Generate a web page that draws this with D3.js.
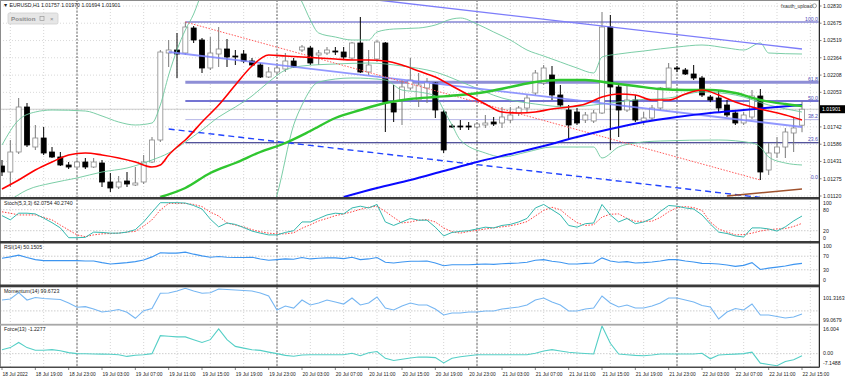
<!DOCTYPE html>
<html>
<head>
<meta charset="utf-8">
<script src="https://cdn.jsdelivr.net/npm/d3@7"></script>
<style>
  body { margin: 0; background: #fff; }
  svg { display: block; }
  text { font-family: "Liberation Sans", Arial, sans-serif; }
</style>
</head>
<body>
<div id="chart"></div>
<script>
// EURUSD H1, 18 Jul 2022 15:00 .. 22 Jul 2022 15:00 (97 bars)
const opens = [1.01390,1.01336,1.01516,1.01921,1.01561,1.01642,1.01516,1.01471,1.01399,1.01381,
  1.01426,1.01381,1.01417,1.01246,1.01201,1.01255,1.01219,1.01246,1.01426,1.01624,
  1.02407,1.02434,1.02407,1.02632,1.02524,1.02272,1.02398,1.02443,1.02380,1.02398,
  1.02335,1.02299,1.02191,1.02236,1.02263,1.02335,1.02434,1.02452,1.02389,1.02407,
  1.02425,1.02416,1.02362,1.02497,1.02236,1.02353,1.02497,1.01957,1.01984,1.02092,
  1.01984,1.02092,1.02137,1.01876,1.01750,1.01750,1.01750,1.01741,1.01759,1.01786,
  1.01777,1.01804,1.01867,1.01912,1.02047,1.02137,1.02209,1.02029,1.01894,1.01876,
  1.01804,1.01795,1.01867,1.02641,1.02101,1.01894,1.01984,1.01795,1.01822,1.01912,
  1.02092,1.02272,1.02254,1.02218,1.02182,1.02011,1.02002,1.01939,1.01867,1.01777,
  1.01831,1.02020,1.01354,1.01507,1.01561,1.01687,1.01757];
const highs = [1.01444,1.01624,1.02002,1.01957,1.01759,1.01741,1.01561,1.01516,1.01426,1.01444,
  1.01462,1.01462,1.01444,1.01327,1.01300,1.01336,1.01381,1.01489,1.01651,1.02434,
  1.02524,1.02587,1.02686,1.02650,1.02542,1.02551,1.02641,1.02533,1.02434,1.02434,
  1.02362,1.02317,1.02281,1.02299,1.02407,1.02362,1.02479,1.02470,1.02434,1.02461,
  1.02461,1.02461,1.02506,1.02731,1.02434,1.02524,1.02506,1.02119,1.02164,1.02362,
  1.02227,1.02182,1.02146,1.01894,1.01768,1.01804,1.01786,1.01786,1.01849,1.01831,
  1.01921,1.01921,1.01930,1.02029,1.02254,1.02299,1.02290,1.02119,1.01939,1.01912,
  1.01876,1.01894,1.02776,1.02749,1.02119,1.02119,1.02029,1.01876,1.01939,1.02101,
  1.02317,1.02290,1.02272,1.02299,1.02200,1.02029,1.02074,1.01984,1.01894,1.01876,
  1.02074,1.02083,1.01597,1.01651,1.01732,1.01831,1.01970];
const lows = [1.01300,1.01201,1.01498,1.01561,1.01534,1.01489,1.01462,1.01390,1.01363,1.01372,
  1.01363,1.01372,1.01201,1.01156,1.01183,1.01201,1.01210,1.01228,1.01417,1.01606,
  1.02281,1.02182,1.02389,1.02497,1.02227,1.02254,1.02281,1.02281,1.02299,1.02317,
  1.02290,1.02182,1.02182,1.02218,1.02236,1.02272,1.02416,1.02299,1.02299,1.02389,
  1.02389,1.02344,1.02344,1.02227,1.02209,1.02326,1.01696,1.01786,1.01759,1.02074,
  1.01921,1.01957,1.01822,1.01507,1.01732,1.01714,1.01714,1.01723,1.01732,1.01750,
  1.01732,1.01777,1.01840,1.01876,1.02029,1.02119,1.01984,1.01921,1.01624,1.01759,
  1.01777,1.01777,1.01858,1.01534,1.01651,1.01876,1.01786,1.01759,1.01804,1.01894,
  1.02074,1.02236,1.02209,1.02164,1.02011,1.01966,1.01876,1.01831,1.01759,1.01759,
  1.01813,1.01264,1.01309,1.01462,1.01462,1.01516,1.01694];
const closes = [1.01336,1.01516,1.01921,1.01579,1.01642,1.01507,1.01471,1.01399,1.01381,1.01426,
  1.01381,1.01426,1.01246,1.01192,1.01246,1.01228,1.01237,1.01426,1.01624,1.02416,
  1.02434,1.02398,1.02641,1.02524,1.02272,1.02407,1.02443,1.02371,1.02371,1.02335,
  1.02299,1.02191,1.02236,1.02272,1.02335,1.02281,1.02461,1.02317,1.02407,1.02434,
  1.02416,1.02371,1.02497,1.02236,1.02299,1.02506,1.01966,1.01876,1.02101,1.02164,
  1.02119,1.02146,1.01894,1.01534,1.01741,1.01741,1.01741,1.01768,1.01777,1.01768,
  1.01831,1.01849,1.01912,1.02002,1.02227,1.02272,1.02029,1.01939,1.01759,1.01777,
  1.01849,1.01867,1.02641,1.02101,1.01894,1.01984,1.01804,1.01822,1.01912,1.02092,
  1.02272,1.02263,1.02218,1.02182,1.02029,1.01984,1.01912,1.01849,1.01777,1.01849,
  1.02020,1.01336,1.01507,1.01561,1.01696,1.01732,1.01901];

// moving averages and bands, [bar, price]
const maRed = [[0,1.01183],[2,1.01264],[4,1.01354],[6,1.01426],[8,1.01489],[10,1.01507],[12,1.01489],
  [14,1.01462],[16,1.01426],[18,1.01381],[19,1.01399],[20,1.01489],[21,1.01561],[22,1.01624],[24,1.01786],
  [26,1.01939],[28,1.02119],[30,1.02290],[32,1.02389],[34,1.02380],[36,1.02371],[38,1.02362],[40,1.02353],
  [42,1.02344],[44,1.02344],[46,1.02335],[48,1.02299],[50,1.02245],[52,1.02191],[54,1.02110],[56,1.02029],
  [58,1.01948],[60,1.01876],[62,1.01867],[64,1.01876],[66,1.01903],[68,1.01921],[70,1.01948],[72,1.02011],
  [74,1.02038],[76,1.02029],[78,1.01984],[80,1.01984],[82,1.02038],[84,1.02074],[86,1.02029],[88,1.01966],
  [90,1.01921],[92,1.01885],[94,1.01849],[96,1.01804]];
const maGreen = [[19,1.01111],[22,1.01192],[25,1.01327],[28,1.01417],[31,1.01516],[34,1.01597],[37,1.01705],
  [40,1.01822],[43,1.01894],[46,1.01957],[49,1.01993],[52,1.02011],[55,1.02029],[58,1.02056],[61,1.02101],
  [64,1.02146],[67,1.02164],[70,1.02164],[73,1.02137],[76,1.02110],[79,1.02083],[82,1.02074],[85,1.02074],
  [88,1.02047],[91,1.01984],[94,1.01948],[96,1.01930]];
const maBlue = [[41,1.01111],[45,1.01192],[49,1.01264],[53,1.01345],[57,1.01426],[61,1.01498],[65,1.01570],
  [69,1.01651],[73,1.01723],[77,1.01786],[81,1.01831],[85,1.01867],[89,1.01894],[93,1.01921],[96,1.01939]];
const bbUpper = [[0,1.01579],[2,1.01804],[4,1.01876],[6,1.01894],[10,1.01885],[12,1.01840],[14,1.01786],
  [16,1.01759],[18,1.01777],[19,1.01939],[20,1.02209],[21,1.02434],[22,1.02614],[23,1.02758],[24,1.02956],
  [28,1.03424],[32,1.03334],[35,1.02992],[36,1.02866],[37,1.02704],[38,1.02587],[40,1.02551],[42,1.02524],
  [44,1.02524],[45,1.02596],[47,1.02623],[50,1.02632],[52,1.02659],[54,1.02713],[55,1.02722],[57,1.02668],
  [59,1.02596],[61,1.02524],[63,1.02434],[65,1.02380],[67,1.02326],[69,1.02272],[71,1.02227],[72,1.02371],
  [74,1.02398],[77,1.02425],[81,1.02461],[84,1.02479],[87,1.02452],[89,1.02434],[91,1.02497],[92,1.02407],[96,1.02398]];
const bbMiddle = [[1,1.01084],[3,1.01174],[6,1.01237],[9,1.01282],[12,1.01336],[15,1.01372],[18,1.01444],
  [20,1.01507],[22,1.01606],[24,1.01714],[26,1.01831],[28,1.01921],[30,1.02020],[32,1.02146],[34,1.02254],
  [36,1.02290],[40,1.02308],[44,1.02317],[48,1.02290],[52,1.02236],[56,1.02119],[60,1.02002],[64,1.01948],
  [68,1.01921],[72,1.01948],[76,1.01984],[80,1.02002],[84,1.02056],[88,1.02029],[92,1.01939],[96,1.01876]];
const bbLower = [[0,1.00949],[6,1.01039],[12,1.01084],[18,1.01102],[19,1.00949],[22,1.00544],[27,1.00634],
  [31,1.00724],[33,1.01129],[35,1.01759],[36,1.01939],[38,1.02146],[42,1.02182],[46,1.02164],[48,1.02074],
  [50,1.02056],[52,1.02020],[53,1.01894],[54,1.01759],[55,1.01624],[58,1.01507],[60,1.01471],[63,1.01516],
  [66,1.01561],[71,1.01561],[72,1.01462],[74,1.01561],[76,1.01597],[79,1.01615],[86,1.01624],[90,1.01597],
  [91,1.01561],[92,1.01471],[94,1.01417],[96,1.01399]];

// drawn objects, [bar, price]
const trendUpper = [[45,1.02884],[96,1.02443]];
const trendMid = [[20,1.02416],[96,1.01741]];
const trendLowDash = [[20,1.01723],[91,1.01107]];
const trendRed = [[22,1.02686],[91,1.01264]];
const trendBrown = [[87,1.01120],[96,1.01183]];
const fibHigh = 1.02686, fibLow = 1.01264, fibStartBar = 22;
const fibLevels = [0, 23.6, 38.2, 50, 61.8, 100];
const fibLabels = ['0.0', '23.6', '38.2', '50.0', '61.8', '100.0'];

// indicator series, one value per bar
const stochK = [63,51,70,70,68,56,43,28,0,0,
  1,16,15,13,13,16,23,45,73,100,
  100,100,99,92,82,53,31,42,38,29,
  19,13,8,8,15,20,45,45,55,65,
  70,68,85,90,85,95,45,35,45,55,
  50,50,30,5,15,18,20,25,30,28,
  35,38,45,55,85,95,80,65,35,30,
  40,42,95,65,45,55,40,45,55,75,
  92,90,85,82,65,39,16,12,5,2,
  28,28,25,19,31,48,62];
const stochD = [74,70,65,65,65,58,51,36,22,8,
  3,8,11,12,13,16,18,33,51,79,
  98,98,98,95,89,73,62,42,36,31,
  23,17,13,11,11,14,27,37,48,55,
  63,68,74,81,87,90,75,58,42,45,
  50,52,45,28,17,13,18,21,25,28,
  31,34,39,46,62,78,87,80,60,43,
  35,37,59,67,68,55,47,47,47,58,
  74,86,89,86,78,45,25,16,8,9,
  13,19,23,25,26,32,41];
const rsiVals = [64,68,73,66,60,57,57,57,57,57,
  56,56,51,47,49,51,54,59,68,80,
  79,79,82,76,71,67,69,67,66,66,
  67,62,58,60,62,61,66,62,64,65,
  65,63,67,60,62,66,52,50,53,55,
  55,56,50,42,45,45,45,46,47,46,
  48,49,50,52,58,60,55,52,47,47,
  49,50,65,56,52,54,50,51,53,56,
  60,60,56,53,49,48.5,47,44,40,43,
  51,31,35,38,41,46,49];
const momVals = [101.11,101.21,101.86,101.11,101.37,101.27,101.21,101.16,100.81,100.37,
  100.43,100.19,99.89,99.99,100.14,99.85,99.24,100.02,100.24,101.80,
  101.83,102.03,102.31,102.03,101.80,101.86,102.24,102.19,102.13,102.08,
  102.03,101.83,101.52,100.09,100.50,100.29,101.11,100.60,100.81,101.11,
  100.91,100.70,101.32,100.60,100.81,101.42,100.29,100.09,100.50,100.81,
  100.60,100.60,100.19,99.58,99.78,99.78,99.89,99.89,99.99,99.99,
  100.19,100.29,100.40,100.60,101.11,101.32,100.91,100.60,99.99,99.99,
  100.19,100.29,101.52,100.81,100.40,100.60,100.29,100.29,100.50,100.81,
  101.32,101.32,101.11,100.91,100.55,100.40,99.17,99.89,100.24,100.09,
  100.70,99.58,99.58,99.43,99.27,99.37,99.68];
const forceVals = [2.3,3.5,6.5,3.5,2.0,2.0,2.3,1.7,0.6,0,
  -0.1,-0.2,-0.3,-0.35,-0.6,-1.6,-0.9,-0.6,0,10.4,
  10.1,9.7,9.7,8.1,6.5,8.1,14.3,8.1,4.2,3.2,
  2.3,1.9,0.9,0,-1.0,-1.5,-0.8,-0.6,-0.6,-0.6,
  -0.6,-0.6,0.2,-1.2,0.5,1.2,-2.7,-4.0,-3.2,-2.5,
  -1.9,-2.0,-2.3,-5.4,-2.7,-1.8,-1.2,-0.6,-0.6,-0.6,
  -0.6,-0.6,-0.6,-0.6,0.2,1.5,2.3,1.5,0.8,0.4,
  0.1,-0.2,16.0,6.0,-0.2,-0.6,-1.0,-1.2,-0.8,-0.2,
  -0.2,-0.2,-0.2,-0.2,0.2,-3.0,-0.8,-0.5,-0.3,0,
  0.9,-5.5,-6.3,-7.0,-4.5,-3.5,-1.2];

// axis labels
const priceTicks = [1.02830,1.02675,1.02519,1.02364,1.02208,1.02053,1.01897,1.01742,1.01586,1.01431,1.01275,1.01120];
const timeTickBars = d3.range(0, 97, 4);
const timeLabels = ['18 Jul 2022','18 Jul 19:00','18 Jul 23:00','19 Jul 03:00','19 Jul 07:00','19 Jul 11:00',
  '19 Jul 15:00','19 Jul 19:00','19 Jul 23:00','20 Jul 03:00','20 Jul 07:00','20 Jul 11:00','20 Jul 15:00',
  '20 Jul 19:00','20 Jul 23:00','21 Jul 03:00','21 Jul 07:00','21 Jul 11:00','21 Jul 15:00','21 Jul 19:00',
  '21 Jul 23:00','22 Jul 03:00','22 Jul 07:00','22 Jul 11:00','22 Jul 15:00'];
const dayBreakBars = [9, 33, 57, 81];

const W = 845, H = 379, plotR = 819;
const panels = {
  main:  { top: 1,   bottom: 197 },
  stoch: { top: 199.5, bottom: 241 },
  rsi:   { top: 243.5, bottom: 284.5 },
  mom:   { top: 287.5, bottom: 323.5 },
  force: { top: 325.5, bottom: 366.5 },
};

const x = d3.scaleLinear().domain([0, 96]).range([2, 802]);
const yMain = d3.scaleLinear().domain([1.01120, 1.02830]).range([196, 6]);
const yStoch = d3.scaleLinear().domain([0, 100]).range([237.7, 202.7]);
const yRsi = d3.scaleLinear().domain([0, 100]).range([280, 246]);
const yMom = d3.scaleLinear().domain([99.0679, 101.3163]).range([320, 298]);
const yForce = d3.scaleLinear().domain([-7.1488, 16.004]).range([366, 326]);

const svg = d3.select('#chart').append('svg').attr('width', W).attr('height', H);
svg.append('rect').attr('width', W).attr('height', H).attr('fill', '#fff');

const defs = svg.append('defs');
Object.entries(panels).forEach(([k, p]) => {
  defs.append('clipPath').attr('id', 'clip-' + k)
    .append('rect').attr('x', 0).attr('y', p.top).attr('width', plotR).attr('height', p.bottom - p.top);
});

// grid
const grid = svg.append('g');
grid.selectAll('.gv').data(timeTickBars.map(b => b + 1).filter(b => x(b) < plotR)).join('line')
  .attr('x1', d => x(d)).attr('x2', d => x(d)).attr('y1', 0).attr('y2', 367)
  .attr('stroke', '#c4c4c4').attr('stroke-width', 0.7).attr('stroke-dasharray', '1,2');
grid.selectAll('.gh').data(priceTicks).join('line')
  .attr('x1', 0).attr('x2', plotR).attr('y1', d => yMain(d)).attr('y2', d => yMain(d))
  .attr('stroke', '#c8c8c8').attr('stroke-width', 0.7).attr('stroke-dasharray', '1,2');
grid.selectAll('.gd').data(dayBreakBars).join('line')
  .attr('x1', d => x(d)).attr('x2', d => x(d)).attr('y1', 0).attr('y2', 367)
  .attr('stroke', '#3c3c3c').attr('stroke-width', 0.8).attr('stroke-dasharray', '2,1.5');

// indicator level lines
const levels = [[yStoch, [80, 20]], [yRsi, [70, 30]], [yMom, [100]], [yForce, [0]]];
levels.forEach(([sc, vals]) => {
  grid.selectAll(null).data(vals).join('line')
    .attr('x1', 0).attr('x2', plotR).attr('y1', d => sc(d)).attr('y2', d => sc(d))
    .attr('stroke', '#b8b8b8').attr('stroke-width', 0.7).attr('stroke-dasharray', '1.5,1.5');
});

// main panel
const main = svg.append('g').attr('clip-path', 'url(#clip-main)');
const pairLine = (ys, curve) => d3.line().x(d => x(d[0])).y(d => ys(d[1])).curve(curve || d3.curveLinear);

// bid line
main.append('line').attr('x1', 0).attr('x2', plotR)
  .attr('y1', yMain(closes[closes.length - 1])).attr('y2', yMain(closes[closes.length - 1]))
  .attr('stroke', '#c0c0c0').attr('stroke-width', 0.8);

// fibonacci levels
const fibStyle = {
  '0.0':   { c: 'none', w: 0 },
  '23.6':  { c: '#1a1a7a', w: 1.1 },
  '38.2':  { c: '#b4b4e6', w: 1 },
  '50.0':  { c: '#4646c4', w: 1.4 },
  '61.8':  { c: '#8e8ed6', w: 3 },
  '100.0': { c: '#4a4ac0', w: 1.2 },
};
const fibData = fibLevels.map((l, i) => ({ label: fibLabels[i], price: fibLow + (fibHigh - fibLow) * l / 100 }));
main.selectAll('.fib').data(fibData).join('line')
  .attr('x1', x(fibStartBar)).attr('x2', plotR)
  .attr('y1', d => yMain(d.price)).attr('y2', d => yMain(d.price))
  .attr('stroke', d => fibStyle[d.label].c).attr('stroke-width', d => fibStyle[d.label].w);

// candles
const candles = opens.map((o, i) => ({ i, o, h: highs[i], l: lows[i], c: closes[i] }));
const cg = main.append('g');
cg.selectAll('.wick').data(candles).join('line')
  .attr('x1', d => x(d.i)).attr('x2', d => x(d.i))
  .attr('y1', d => yMain(d.h)).attr('y2', d => yMain(d.l))
  .attr('stroke', d => d.c >= d.o ? '#7a7a7a' : '#000').attr('stroke-width', 1);
cg.selectAll('.body').data(candles).join('rect')
  .attr('x', d => x(d.i) - 2.5).attr('width', 5)
  .attr('y', d => yMain(Math.max(d.o, d.c)))
  .attr('height', d => Math.max(1, Math.abs(yMain(d.o) - yMain(d.c))))
  .attr('fill', d => d.c >= d.o ? '#fff' : '#000')
  .attr('stroke', d => d.c >= d.o ? '#8a8a8a' : '#000').attr('stroke-width', 0.8);

// bollinger
[bbUpper, bbMiddle, bbLower].forEach(s => {
  main.append('path').datum(s).attr('d', pairLine(yMain, d3.curveMonotoneX))
    .attr('fill', 'none').attr('stroke', '#6cc79c').attr('stroke-width', 0.9);
});

// trend lines
main.append('path').datum(trendUpper).attr('d', pairLine(yMain))
  .attr('fill', 'none').attr('stroke', '#7d7dfa').attr('stroke-width', 1.4);
main.append('path').datum(trendMid).attr('d', pairLine(yMain))
  .attr('fill', 'none').attr('stroke', '#7f86ff').attr('stroke-width', 1.8).attr('opacity', 0.85);
main.append('path').datum(trendLowDash).attr('d', pairLine(yMain))
  .attr('fill', 'none').attr('stroke', '#2244ff').attr('stroke-width', 1.4).attr('stroke-dasharray', '6,4');
main.append('path').datum(trendRed).attr('d', pairLine(yMain))
  .attr('fill', 'none').attr('stroke', '#ff5a5a').attr('stroke-width', 1).attr('stroke-dasharray', '1.5,1.5');
main.append('path').datum(trendBrown).attr('d', pairLine(yMain))
  .attr('fill', 'none').attr('stroke', '#a0522d').attr('stroke-width', 1.6);

// moving averages
main.append('path').datum(maBlue).attr('d', pairLine(yMain, d3.curveMonotoneX))
  .attr('fill', 'none').attr('stroke', '#0a0aff').attr('stroke-width', 2);
main.append('path').datum(maGreen).attr('d', pairLine(yMain, d3.curveMonotoneX))
  .attr('fill', 'none').attr('stroke', '#2fc62f').attr('stroke-width', 2.4);
main.append('path').datum(maRed).attr('d', pairLine(yMain, d3.curveMonotoneX))
  .attr('fill', 'none').attr('stroke', '#ff0000').attr('stroke-width', 1.6);

// fib labels
svg.selectAll('.fibl').data(fibData).join('text')
  .attr('x', 818).attr('y', d => yMain(d.price) - 1.5).attr('text-anchor', 'end')
  .attr('font-size', 5.2).attr('fill', '#5252b8').text(d => d.label);

// indicator panels
const series = (vals) => vals.map((v, i) => [i, v]);
const addPanelLine = (key, ys, vals, color, w, dash) => {
  svg.append('path').datum(series(vals)).attr('clip-path', `url(#clip-${key})`)
    .attr('d', pairLine(ys)).attr('fill', 'none').attr('stroke', color)
    .attr('stroke-width', w).attr('stroke-dasharray', dash || null);
};
addPanelLine('stoch', yStoch, stochD, '#ff4040', 1, '1.5,1.5');
addPanelLine('stoch', yStoch, stochK, '#35b8ae', 1);
addPanelLine('rsi', yRsi, rsiVals, '#3d95f0', 1.1);
addPanelLine('mom', yMom, momVals, '#76b6f2', 1.1);
addPanelLine('force', yForce, forceVals, '#55cfc6', 1.1);

// frames and separators
svg.append('rect').attr('x', 0.5).attr('y', 0.5).attr('width', plotR - 0.5).attr('height', 366.5)
  .attr('fill', 'none').attr('stroke', '#8c8c8c').attr('stroke-width', 1);
[[197, 2.5, '#3a3a3a'], [241, 2.5, '#3a3a3a'], [284.5, 2.8, '#3a3a3a'], [323.8, 1.8, '#a8a8a8']].forEach(([yy, h, c]) => {
  svg.append('rect').attr('x', 0).attr('y', yy).attr('width', plotR).attr('height', h).attr('fill', c);
});
svg.append('line').attr('x1', plotR + 0.5).attr('x2', plotR + 0.5).attr('y1', 0).attr('y2', 367.5)
  .attr('stroke', '#2a2a2a').attr('stroke-width', 1);
svg.append('line').attr('x1', 0).attr('x2', plotR).attr('y1', 367.3).attr('y2', 367.3)
  .attr('stroke', '#2a2a2a').attr('stroke-width', 1);

// price axis
const axisText = (sel) => sel.attr('font-size', 5.2).attr('fill', '#222');
svg.selectAll('.pt').data(priceTicks).join('text')
  .attr('x', 823).attr('y', d => yMain(d) + 1.8).text(d => d.toFixed(5)).call(axisText);
svg.selectAll('.ptk').data(priceTicks).join('line')
  .attr('x1', plotR).attr('x2', plotR + 2.5).attr('y1', d => yMain(d)).attr('y2', d => yMain(d))
  .attr('stroke', '#333').attr('stroke-width', 0.6);

// current price box
const last = closes[closes.length - 1];
svg.append('rect').attr('x', 820).attr('y', yMain(last) - 4).attr('width', 25).attr('height', 8).attr('fill', '#000');
svg.append('text').attr('x', 822).attr('y', yMain(last) + 1.8).attr('font-size', 5.2).attr('fill', '#fff')
  .text(d3.format('.5f')(last));

// indicator axis labels
const sideLabels = [
  [yStoch, [100, 80, 20, 0], d => String(d)],
  [yRsi, [100, 70, 30, 0], d => String(d)],
  [yMom, [101.3163, 99.0679], d => d.toFixed(4)],
];
sideLabels.forEach(([sc, vals, fmt]) => {
  svg.selectAll(null).data(vals).join('text')
    .attr('x', 823).attr('y', d => sc(d) + 1.8).text(fmt).call(axisText);
});
svg.append('text').attr('x', 823).attr('y', 331).text('16.004').call(axisText);
svg.append('text').attr('x', 823).attr('y', yForce(0) + 1.8).text('0.00').call(axisText);
svg.append('text').attr('x', 823).attr('y', 364.5).text('-7.1488').call(axisText);

// time axis
svg.selectAll('.tl').data(timeTickBars).join('text')
  .attr('x', d => x(d) + 0.5).attr('y', 375.5).text((d, i) => timeLabels[i])
  .attr('font-size', 4.9).attr('fill', '#222');
svg.selectAll('.ttk').data(timeTickBars).join('line')
  .attr('x1', d => x(d)).attr('x2', d => x(d)).attr('y1', 367.5).attr('y2', 370)
  .attr('stroke', '#333').attr('stroke-width', 0.6);

// panel titles
const titles = [
  [7, '\u25BC EURUSD,H1  1.01757 1.01970 1.01694 1.01901'],
  [205, 'Stoch(5,3,3) 62.0754 40.2740'],
  [249, 'RSI(14) 50.1505'],
  [292.5, 'Momentum(14) 99.6723'],
  [331, 'Force(13) -1.2277'],
];
titles.forEach(([yy, t], i) => {
  svg.append('text').attr('x', i === 0 ? 3 : 4).attr('y', yy).attr('font-size', 5.2).attr('fill', '#222').text(t);
});

// Position panel
const pos = svg.append('g');
pos.append('rect').attr('x', 8).attr('y', 13).attr('width', 50).attr('height', 11).attr('rx', 1.5)
  .attr('fill', '#e6e6e6').attr('stroke', '#cfcfcf').attr('stroke-width', 0.8);
pos.append('text').attr('x', 11).attr('y', 21).attr('font-size', 6.2).attr('font-weight', 'bold')
  .attr('fill', '#8a8a8a').text('Position');
pos.append('rect').attr('x', 40).attr('y', 16.5).attr('width', 4).attr('height', 4)
  .attr('fill', 'none').attr('stroke', '#9a9a9a').attr('stroke-width', 0.7);
pos.append('text').attr('x', 50).attr('y', 21).attr('font-size', 6).attr('fill', '#8a8a8a').text('\u00D7');

// signature top right
svg.append('text').attr('x', 781).attr('y', 7.5).attr('font-size', 5).attr('fill', '#333').text('fxauth_upload');
svg.append('circle').attr('cx', 814.5).attr('cy', 5.8).attr('r', 2).attr('fill', 'none')
  .attr('stroke', '#555').attr('stroke-width', 0.5);
</script>
</body>
</html>
